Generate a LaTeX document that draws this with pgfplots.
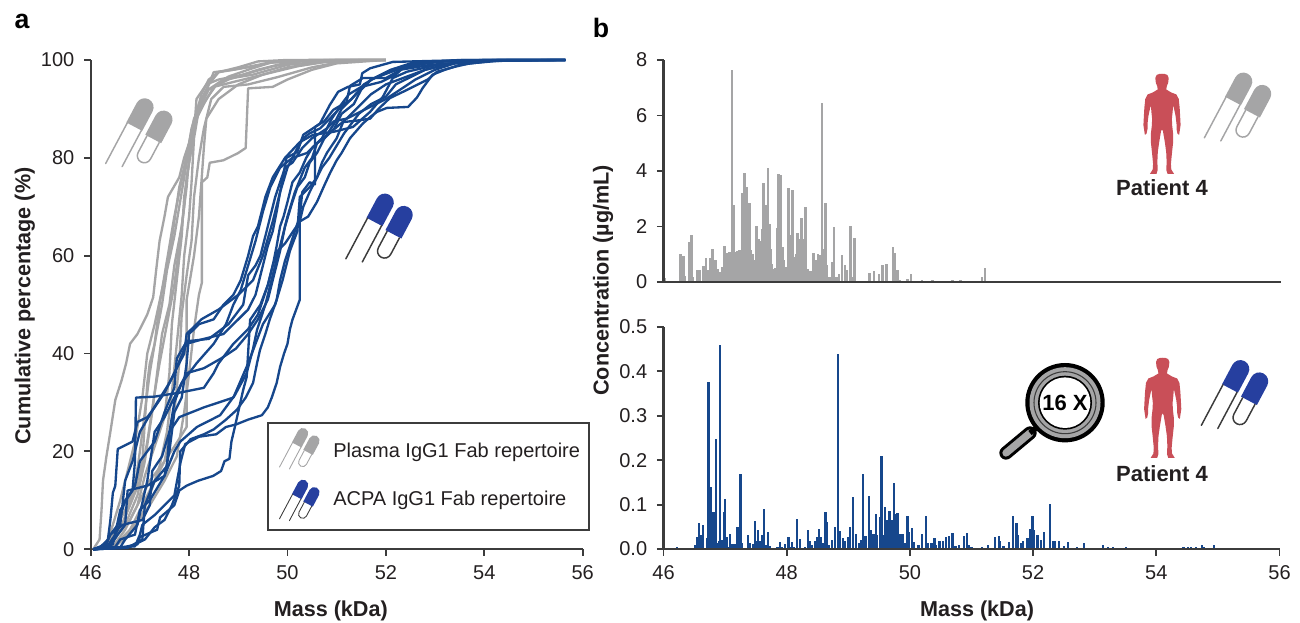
\documentclass[border=0pt]{standalone}
\usepackage{pgfplots}
\usepackage{fontspec}
\setmainfont{Liberation Sans}
\pgfplotsset{compat=1.18}

\definecolor{plasma}{HTML}{A5A5A6}
\definecolor{acpa}{HTML}{16478C}
\definecolor{capblue}{HTML}{263F9F}
\definecolor{axisgrey}{HTML}{3C3C3C}
\definecolor{inkc}{HTML}{231F20}
\definecolor{bodyred}{HTML}{C94F58}

\pgfplotsset{
  panel/.style={
    scale only axis,
    axis lines=left,
    axis line style={-,axisgrey,line width=1.6pt},
    tick style={axisgrey,line width=1.4pt},
    tick align=outside,
    major tick length=5pt,
    tick pos=left,
    tick label style={font=\fontsize{15}{17}\selectfont,text=inkc},
    label style={font=\fontsize{16.2}{18}\selectfont\bfseries,text=inkc},
    ticklabel shift=3.75pt,
    /pgf/number format/assume math mode=true,
  },
  grey curve/.style={plasma,line width=1.75pt,line join=round,no marks},
  blue curve/.style={acpa,line width=1.75pt,line join=round,no marks},
}

% capsule pair, (#1,#2) = joint of the left capsule
\newcommand{\capsules}[5]{%
  \begin{scope}[shift={(#1,#2)},rotate=-28,scale=#3]
    \fill[#4] (-9,0) -- (-9,22) arc (180:0:9) -- (9,0) -- cycle;
    \draw[#5,line width=1.1pt*#3,line cap=round] (-8,0) -- (-8,-46) (8,0) -- (8,-41);
    \begin{scope}[shift={(22.5,-2)}]
      \fill[#4] (-9,0) -- (-9,22) arc (180:0:9) -- (9,0) -- cycle;
      \draw[#5,line width=1.1pt*#3] (-7,0) -- (-7,-19) arc (180:360:7) -- (7,0);
    \end{scope}
  \end{scope}}

% body outline, (#1,#2) = top of the head
\newcommand{\person}[2]{%
  \foreach \s in {1,-1}{
    \fill[bodyred,shift={(#1,#2)},xscale=0.93*\s,yscale=-1]
      (-0.3,0) -- (3,0) -- (5.8,1) -- (7.2,4) -- (6.6,9) -- (5.2,12) -- (4.6,15.5) -- (10,18.5)
      -- (15.5,20.5) -- (18,25) -- (19,34) -- (19.6,44) -- (20,51) -- (19.2,56) -- (18.4,61)
      -- (16.6,59.5) -- (15.6,55) -- (15.6,50) -- (14.6,42) -- (13,35) -- (12,31) -- (11.4,38)
      -- (10.6,45) -- (11,52) -- (12,60) -- (12,68) -- (10.6,80) -- (9.6,90) -- (10,95.5)
      -- (13,100) -- (6,100) -- (4.6,96) -- (5,88) -- (4.5,78) -- (3,68) -- (1,57) -- (-0.3,55) -- cycle;
  }}

\begin{document}
\begin{tikzpicture}[x=0.75pt,y=0.75pt]
\path[use as bounding box] (0,0) rectangle (1300,623);

% panel a
\begin{axis}[panel,
  at={(68.025pt,55.275pt)},anchor=south west,
  width=369pt,height=367pt,
  xmin=46,xmax=56,ymin=0,ymax=100,
  xtick={46,48,50,52,54,56},
  ytick={0,20,40,60,80,100},
  xlabel={Mass (kDa)},
  ylabel={Cumulative percentage (\%)},
  every axis x label/.append style={at={(rel axis cs:0.488,-0.126)},anchor=center},
  every axis y label/.append style={at={(rel axis cs:-0.134,0.497)},anchor=center},
  clip=false,
]
\addplot[grey curve] coordinates {(46.05,0)(46.18,2)(46.22,8)(46.25,14)(46.32,19)(46.4,24)(46.5,30.5)(46.63,34.6)(46.72,38)(46.8,42)(46.95,44)(47.15,48)(47.27,51.5)(47.33,57)(47.4,63)(47.5,68)(47.57,72)(47.8,76)(47.9,80)(48,83)(48.1,86)(48.2,89.5)(48.35,92)(48.56,95)(48.8,96.6)(49.2,98)(49.7,99.6)(50.5,100)(52,100)};
\addplot[grey curve] coordinates {(46.05,0)(46.3,0.5)(46.45,2)(46.6,4)(46.75,8)(46.9,12)(47.05,18)(47.1,26)(47.15,34)(47.2,38)(47.3,42)(47.4,50)(47.5,56)(47.6,62)(47.7,68)(47.8,73)(47.9,78)(48,83)(48.1,88)(48.25,91)(48.4,95)(48.6,97.5)(49.2,98.5)(49.7,99.5)(50.5,100)(52,100)};
\addplot[grey curve] coordinates {(46.05,0)(46.4,0.5)(46.55,3)(46.8,6)(47,10)(47.2,14)(47.5,18)(47.7,21)(47.95,25)(47.95,51)(48,54)(48.1,60)(48.2,68)(48.25,75)(48.3,82)(48.35,88)(48.6,92)(49,95)(49.5,97)(50,98.5)(50.7,99.5)(51.5,100)(52,100)};
\addplot[grey curve] coordinates {(46.05,0)(46.45,0.5)(46.6,2)(46.9,5)(47.2,9)(47.5,14)(47.75,19)(47.9,28)(48,36)(48.1,45)(48.2,52)(48.26,54.5)(48.26,75)(48.37,76)(48.42,79)(48.7,79.5)(49,81)(49.15,82)(49.2,94.2)(49.7,94.5)(50,96)(50.5,98)(51,99.3)(52,100)};
\addplot[grey curve] coordinates {(46.05,0)(46.3,0.5)(46.5,4)(46.7,8)(46.9,13)(47,20)(47.1,28)(47.2,36)(47.3,42)(47.45,50)(47.55,57)(47.7,64)(47.8,70)(47.9,76)(48,82)(48.1,87)(48.2,90)(48.4,94)(48.7,96)(49.3,97)(50,99)(51,100)(52,100)};
\addplot[grey curve] coordinates {(46.05,0)(46.35,0.5)(46.55,3)(46.8,9)(47,14)(47.15,22)(47.3,32)(47.4,38)(47.55,46)(47.7,54)(47.8,62)(47.9,70)(47.95,76)(48.05,82)(48.15,88)(48.3,91)(48.5,94.5)(48.9,95.5)(49.5,97)(50.2,98.7)(51,100)(52,100)};
\addplot[grey curve] coordinates {(46.05,0)(46.4,0.5)(46.7,2)(47,6)(47.2,11)(47.4,17)(47.55,24)(47.65,32)(47.75,42)(47.85,52)(47.9,60)(48,68)(48.05,75)(48.1,84)(48.2,90)(48.4,94)(48.8,96)(49.4,98)(50,99.5)(50.8,100)(52,100)};
\addplot[grey curve] coordinates {(46.05,0)(46.5,0.5)(46.75,3)(47,8)(47.25,13)(47.5,18)(47.7,28)(47.8,38)(47.85,48)(47.95,56)(48.05,63)(48.1,72)(48.2,80)(48.3,86)(48.45,92)(48.7,94.5)(49.2,95)(49.8,96.5)(50.5,98.5)(51.3,100)(52,100)};
\addplot[grey curve] coordinates {(46.05,0)(46.3,0.5)(46.45,5)(46.6,10)(46.75,16)(46.9,22)(47.05,31)(47.15,40)(47.3,46)(47.45,53)(47.6,60)(47.7,67)(47.8,74)(47.95,80)(48.05,86)(48.2,91)(48.4,95)(48.5,97.5)(48.9,98)(49.6,99.4)(50.5,100)(52,100)};
\addplot[grey curve] coordinates {(46.05,0)(46.45,0.5)(46.7,4)(46.95,9)(47.1,15)(47.3,21)(47.5,27)(47.6,36)(47.65,46)(47.75,55)(47.85,64)(47.9,72)(48,79)(48.1,85)(48.15,92)(48.35,95)(48.6,96)(49.1,97)(49.7,98.7)(50.3,99.8)(51,100)(52,100)};
\addplot[grey curve] coordinates {(46.05,0)(46.35,0.5)(46.5,3)(46.7,5)(46.95,11)(47.1,18)(47.25,28)(47.35,36)(47.45,44)(47.6,50)(47.7,58)(47.85,66)(47.95,74)(48,80)(48.1,87)(48.25,93)(48.4,96)(48.6,97.5)(49,98.5)(49.4,99.7)(50,100)(52,100)};

\addplot[blue curve] coordinates {(46.05,0)(46.6,0.4)(46.9,0.6)(47,3)(47.05,5)(47.3,7)(47.5,9)(47.7,11)(47.82,17.5)(47.92,21.5)(48.2,23)(48.55,23.5)(48.75,25)(48.95,25.5)(49.2,26.5)(49.48,27.4)(49.6,29)(49.68,31)(49.78,34)(49.85,37.3)(49.93,40)(50,42)(50.05,45)(50.1,46.9)(50.25,51)(50.25,67)(50.42,68)(50.6,71)(50.75,74.4)(50.87,77)(51,79.5)(51.1,81)(51.27,84)(51.4,85.5)(51.53,87)(51.7,88.5)(51.82,89.4)(52.02,90.2)(52.45,90.4)(52.63,92.3)(52.75,94.3)(52.95,97)(53.2,98)(53.5,99)(54.3,100)(55.65,100)};
\addplot[blue curve] coordinates {(46.05,0)(46.7,0.5)(46.95,1)(47,2.5)(47.35,4)(47.41,6.5)(47.7,9)(47.8,12)(47.95,13)(48.18,14)(48.49,15)(48.65,16)(48.72,18)(48.82,18.5)(48.86,22)(48.93,25)(49.1,32.6)(49.17,35.2)(49.24,46.9)(49.45,50)(49.6,54)(49.7,58)(49.8,61)(49.95,62.5)(50.05,64)(50.25,67)(50.32,70)(50.45,73)(50.6,76)(50.7,79)(50.8,81)(51,84)(51.13,87.3)(51.4,87.6)(51.68,88)(51.85,90)(52.08,92.2)(52.35,93.5)(52.63,94.9)(52.85,96)(53.04,97.6)(53.4,98.6)(53.7,99.3)(54.5,100)(55.65,100)};
\addplot[blue curve] coordinates {(46.05,0)(46.7,0.3)(46.9,1)(47.1,2)(47.3,4.5)(47.5,6)(47.65,9)(47.8,13)(47.82,20)(48.03,22.5)(48.3,23.5)(48.5,24.5)(48.75,26.5)(48.97,28.5)(49.15,31)(49.3,34)(49.38,38)(49.44,40.7)(49.55,44)(49.64,47)(49.78,51)(49.85,55)(49.95,59)(50.05,62)(50.15,65)(50.25,68)(50.3,73)(50.45,75)(50.56,74.6)(50.56,86.3)(50.75,87.5)(50.93,89.8)(51.2,91.4)(51.27,94.7)(51.53,96.3)(52,96.3)(52.3,98)(52.9,99)(54.3,100)(55.65,100)};
\addplot[blue curve] coordinates {(46.05,0)(46.3,0.6)(46.4,3)(46.55,5)(46.7,10)(46.85,12)(46.9,18)(46.92,31)(47.3,31.2)(47.8,32)(48.3,33)(48.5,36)(48.6,38)(48.9,42)(49.2,45)(49.4,48)(49.6,54)(49.7,58)(49.78,62)(49.85,66)(49.92,68)(50,71)(50.1,75)(50.25,77)(50.38,80)(50.5,82)(50.7,84)(50.9,88)(51.1,91)(51.25,93)(51.5,94.5)(51.9,95.5)(52.2,97)(52.4,98.8)(53,99.6)(54,100)(55.65,100)};
\addplot[blue curve] coordinates {(46.05,0)(46.2,0.5)(46.35,2)(46.4,6)(46.45,11.5)(46.5,13)(46.55,20.5)(46.85,22)(46.95,26)(47.15,27)(47.3,29)(47.5,32)(47.7,36)(47.95,42)(48.3,43)(48.7,44)(49,47)(49.2,49)(49.35,52)(49.5,58)(49.6,62)(49.7,65)(49.78,69)(49.85,73)(49.98,80)(50.2,81.2)(50.32,84.7)(50.66,87)(50.86,90.8)(51.03,93.5)(51.23,94.5)(51.47,95)(51.52,97.3)(51.68,98.3)(52.14,99.6)(53.7,100)(55.65,100)};
\addplot[blue curve] coordinates {(46.05,0)(46.4,0.8)(46.55,3)(46.7,5)(46.75,12)(47.15,13)(47.5,15)(47.6,20)(47.7,28)(47.85,31)(47.95,38)(48,44)(48.2,46)(48.5,47)(48.7,50)(48.9,52)(49.05,55)(49.2,60)(49.3,64)(49.4,66)(49.5,70)(49.55,72)(49.7,76)(49.95,80)(50.25,83.2)(50.52,84.7)(50.93,85.3)(51.33,86.3)(51.68,89.4)(51.94,92.5)(52.14,96.3)(52.43,97.6)(53.04,99)(54,100)(55.65,100)};
\addplot[blue curve] coordinates {(46.05,0)(46.45,1)(46.6,8)(46.9,13)(47,18)(47.3,22)(47.5,28)(47.7,33)(47.75,39)(47.95,42.5)(48.4,43)(48.8,46)(49.1,50)(49.2,56)(49.35,58)(49.45,60)(49.55,64)(49.65,68)(49.75,72)(49.85,75)(49.95,78)(50.1,79)(50.3,82)(50.5,84)(50.8,86)(50.95,87.5)(51.2,88)(51.5,91)(51.7,93)(52,95)(52.4,96.5)(52.8,98)(53.3,99.2)(54,100)(55.65,100)};
\addplot[blue curve] coordinates {(46.05,0)(46.5,0.5)(46.6,2)(46.9,3)(47,8)(47.2,10)(47.5,15)(47.7,20)(47.82,22)(48.16,25)(48.63,27.4)(48.93,31.5)(49.17,36)(49.3,41)(49.38,44.8)(49.55,50)(49.7,56)(49.85,62)(50,68)(50.15,73)(50.35,78)(50.5,80)(50.6,83)(50.85,85)(51.2,88)(51.6,90)(52,92)(52.3,94)(52.6,96)(53,98)(53.4,99.3)(54.2,100)(55.65,100)};
\addplot[blue curve] coordinates {(46.05,0)(46.6,0.4)(46.7,2)(46.95,5)(47.15,14)(47.3,24)(47.5,27)(47.7,31)(47.95,36)(48.3,37)(48.65,39)(48.95,41)(49.2,44)(49.4,47)(49.6,51)(49.75,57)(49.85,61)(49.95,66)(50.1,71)(50.2,74)(50.35,76)(50.45,79)(50.6,81)(50.75,84)(50.95,86)(51.1,89)(51.35,91)(51.5,94)(51.7,96)(51.95,97)(52.5,99)(53.3,99.8)(55.65,100)};
\addplot[blue curve] coordinates {(46.05,0)(46.75,0.3)(47.05,2)(47.1,9)(47.3,14)(47.55,17)(47.6,24)(47.7,30)(47.85,34)(48.15,38)(48.5,42)(48.75,46)(48.9,50)(49.05,53)(49.2,58)(49.35,63)(49.5,69)(49.65,74)(49.75,76)(49.85,78)(50.1,80)(50.4,81)(50.6,83)(50.75,84)(50.95,87)(51.1,90)(51.3,92)(51.5,94)(51.7,96)(52.2,98)(53,99.7)(55.65,100)};
\addplot[blue curve] coordinates {(46.05,0)(46.35,0.8)(46.5,3)(46.6,5)(46.7,14)(46.85,18)(47,24)(47.35,30)(47.6,34)(47.9,40)(47.95,44)(48.25,47)(48.6,49)(49,52)(49.3,55)(49.5,60)(49.7,67)(49.85,73)(50,78)(50.2,82)(50.32,84)(50.45,85)(50.66,86)(50.86,88)(51.05,90)(51.3,92)(51.55,95)(51.8,96.5)(52.1,98)(52.5,99.3)(53.5,100)(55.65,100)};
\addplot[blue curve] coordinates {(46.05,0)(46.3,1)(46.4,3)(46.65,5)(47.05,6)(47.2,9)(47.25,16)(47.45,19)(47.6,24)(47.8,27)(48.3,29)(48.9,31)(49.2,38)(49.5,46)(49.75,50)(49.9,55)(50.05,61)(50.2,65)(50.25,72)(50.45,74)(50.6,76)(50.7,78)(50.85,80)(51,82.5)(51.15,85)(51.3,87)(51.45,89)(51.7,91)(52,92.5)(52.2,95)(52.5,96.5)(52.8,98)(53.5,99.7)(55.65,100)};
\end{axis}

% panel b, upper
\begin{axis}[panel,
  at={(497.625pt,255.75pt)},anchor=south west,
  width=463pt,height=166.5pt,
  xmin=46,xmax=56,ymin=0,ymax=8,
  xtick=\empty,
  ytick={0,2,4,6,8},
  axis on top,
]
\addplot[ycomb,plasma,line width=1.95pt,no marks] coordinates {
(46.02,0.14)(46.28,1.02)(46.32,0.93)(46.35,0.2)(46.42,1.44)(46.45,1.68)(46.48,0.18)(46.54,0.42)(46.58,0.45)
(46.65,0.57)(46.69,0.87)(46.73,0.42)(46.75,0.88)(46.79,1.2)(46.84,0.81)(46.87,0.48)(46.92,0.36)(46.96,0.54)
(46.99,1.3)(47.03,1.05)(47.07,1.08)(47.11,7.64)(47.14,2.79)(47.16,1.08)(47.19,1.1)(47.23,1.14)(47.27,3.19)
(47.29,1.6)(47.31,3.91)(47.34,3.43)(47.37,1.5)(47.39,2.85)(47.41,1.14)(47.44,1)(47.46,0.78)(47.49,0.7)
(47.51,2.02)(47.55,1.56)(47.58,1.48)(47.6,1.9)(47.62,3.57)(47.65,2.77)(47.67,2.1)(47.69,4.12)(47.72,2.1)
(47.74,1.2)(47.76,0.66)(47.79,0.48)(47.81,0.5)(47.84,1.93)(47.86,3.89)(47.88,2)(47.9,3.85)(47.93,1.26)
(47.95,0.8)(47.98,0.54)(48.02,3.37)(48.05,1.68)(48.07,1)(48.09,3.31)(48.13,0.9)(48.15,1)(48.17,1.78)
(48.2,1.56)(48.22,1)(48.24,2.31)(48.26,1.2)(48.28,1.56)(48.3,2.71)(48.33,0.48)(48.38,0.4)(48.43,1.06)
(48.46,0.78)(48.5,1.02)(48.53,0.96)(48.57,6.46)(48.6,1.2)(48.62,2.83)(48.65,0.6)(48.69,0.18)(48.73,0.72)
(48.76,1.99)(48.8,0.18)(48.84,0.3)(48.89,0.96)(48.94,0.6)(48.97,0.42)(49.03,2.02)(49.07,0.18)(49.09,1.6)
(49.25,0.05)(49.34,0.32)(49.41,0.4)(49.49,0.28)(49.55,0.63)(49.61,0.66)(49.72,1.26)(49.75,1.06)(49.79,0.45)
(49.83,0.06)(49.95,0.12)(50.01,0.3)(50.19,0.06)(50.36,0.08)(50.68,0.06)(50.81,0.08)(50.85,0.05)(51.16,0.18)(51.21,0.5)};
\end{axis}

% panel b, lower
\begin{axis}[panel,
  at={(497.625pt,55.5pt)},anchor=south west,
  width=462pt,height=166.5pt,
  xmin=46,xmax=56,ymin=0,ymax=0.5,
  xtick={46,48,50,52,54,56},
  ytick={0,0.1,0.2,0.3,0.4,0.5},
  yticklabel style={/pgf/number format/.cd,fixed,fixed zerofill,precision=1},
  xlabel={Mass (kDa)},
  ylabel={Concentration (µg/mL)},
  every axis x label/.append style={at={(rel axis cs:0.509,-0.279)},anchor=center},
  every axis y label/.append style={at={(rel axis cs:-0.098,1.21)},anchor=center},
  axis on top,
]
\addplot[ycomb,acpa,line width=1.65pt,no marks] coordinates {
(46.22,0.004)(46.27,0.002)(46.51,0.008)(46.55,0.028)(46.58,0.058)(46.61,0.032)(46.64,0.053)(46.7,0.024)
(46.73,0.375)(46.77,0.14)(46.8,0.084)(46.83,0.084)(46.85,0.247)(46.87,0.013)(46.9,0.017)(46.92,0.46)
(46.95,0.02)(46.98,0.083)(47,0.113)(47.03,0.028)(47.05,0.005)(47.08,0.033)(47.12,0.011)(47.16,0.011)
(47.2,0.05)(47.25,0.168)(47.28,0.013)(47.34,0.002)(47.37,0.031)(47.41,0.013)(47.45,0.011)(47.48,0.064)
(47.51,0.019)(47.54,0.043)(47.57,0.017)(47.6,0.032)(47.63,0.089)(47.66,0.009)(47.7,0.038)(47.73,0.007)
(47.85,0.004)(47.89,0.016)(47.93,0.005)(47.97,0.011)(48.03,0.026)(48.06,0.005)(48.09,0.016)(48.12,0.004)
(48.17,0.067)(48.21,0.022)(48.24,0.002)(48.3,0.005)(48.34,0.043)(48.37,0.019)(48.41,0.009)(48.46,0.017)
(48.5,0.028)(48.53,0.044)(48.56,0.028)(48.59,0.013)(48.63,0.084)(48.66,0.06)(48.69,0.009)(48.74,0.02)
(48.78,0.05)(48.83,0.439)(48.86,0.041)(48.91,0.024)(48.95,0.017)(48.99,0.028)(49.03,0.05)(49.08,0.118)
(49.12,0.034)(49.17,0.013)(49.21,0.02)(49.24,0.17)(49.28,0.029)(49.33,0.12)(49.36,0.043)(49.41,0.034)
(49.45,0.078)(49.47,0.031)(49.51,0.071)(49.54,0.209)(49.57,0.032)(49.6,0.094)(49.63,0.065)(49.67,0.086)
(49.7,0.065)(49.74,0.149)(49.77,0.078)(49.8,0.082)(49.84,0.034)(49.88,0.034)(49.92,0.013)(49.96,0.075)
(49.99,0.039)(50.03,0.047)(50.07,0.015)(50.14,0.009)(50.19,0.034)(50.26,0.074)(50.29,0.013)(50.35,0.013)
(50.4,0.024)(50.43,0.01)(50.48,0.017)(50.54,0.017)(50.59,0.026)(50.64,0.03)(50.69,0.037)(50.74,0.007)
(50.8,0.009)(50.88,0.029)(50.93,0.037)(50.96,0.009)(51,0.005)(51.08,0.003)
(51.17,0.004)(51.27,0.008)(51.38,0.028)(51.44,0.03)(51.46,0.017)(51.52,0.007)(51.61,0.015)(51.68,0.075)
(51.73,0.058)(51.76,0.032)(51.81,0.013)(51.84,0.019)(51.91,0.024)(51.95,0.045)(51.99,0.075)(52.02,0.043)
(52.07,0.032)(52.13,0.02)(52.18,0.039)(52.28,0.101)(52.32,0.019)(52.36,0.017)(52.42,0.018)(52.5,0.007)
(52.57,0.015)(52.71,0.005)(52.82,0.013)(52.95,0.003)(53.04,0.003)(53.14,0.008)(53.22,0.005)(53.3,0.005)
(53.51,0.004)(54.44,0.004)(54.52,0.005)(54.56,0.005)(54.64,0.005)(54.74,0.01)(54.77,0.004)(54.94,0.008)};
\end{axis}

% icons and annotations
\capsules{134.3}{496.3}{1}{plasma}{plasma}
\capsules{374.5}{401}{1}{capblue}{axisgrey}
\capsules{1233}{522}{1}{plasma}{plasma}
\capsules{1230}{234.5}{1}{capblue}{axisgrey}
\person{1162}{549}
\person{1162.7}{265}
\node[font=\fontsize{16.5}{18}\selectfont\bfseries,text=inkc] at (1162,435) {Patient 4};
\node[font=\fontsize{16.5}{18}\selectfont\bfseries,text=inkc] at (1162,149) {Patient 4};

% magnifier
\draw[black,line width=10pt,line cap=round] (1006,170) -- (1030,190);
\draw[plasma,line width=5.5pt,line cap=round] (1006,170) -- (1030,190);
\draw[black,line width=4pt] (1030,190) -- (1040,198);
\fill[black] (1065,220.3) circle (39.7);
\fill[plasma] (1065,220.3) circle (35.5);
\draw[axisgrey,line width=0.8pt] (1065,220.3) circle (31);
\fill[black] (1065,220.3) circle (27);
\fill[white] (1065,220.3) circle (25.3);
\node[font=\fontsize{16.5}{18}\selectfont\bfseries,text=black] at (1065,220) {16 X};

% key
\draw[axisgrey,line width=1.5pt] (268.3,93) rectangle (589.3,199.7);
\capsules{296.7}{178}{0.6}{plasma}{plasma}
\capsules{296.7}{126.3}{0.6}{capblue}{axisgrey}
\node[anchor=west,inner sep=0pt,font=\fontsize{15}{17}\selectfont,text=inkc] at (333,171) {Plasma IgG1 Fab repertoire};
\node[anchor=west,inner sep=0pt,font=\fontsize{15}{17}\selectfont,text=inkc] at (333,123) {ACPA IgG1 Fab repertoire};

\node[font=\fontsize{20}{22}\selectfont\bfseries,text=black] at (22,602) {a};
\node[font=\fontsize{20}{22}\selectfont\bfseries,text=black] at (601,595) {b};
\end{tikzpicture}
\end{document}
